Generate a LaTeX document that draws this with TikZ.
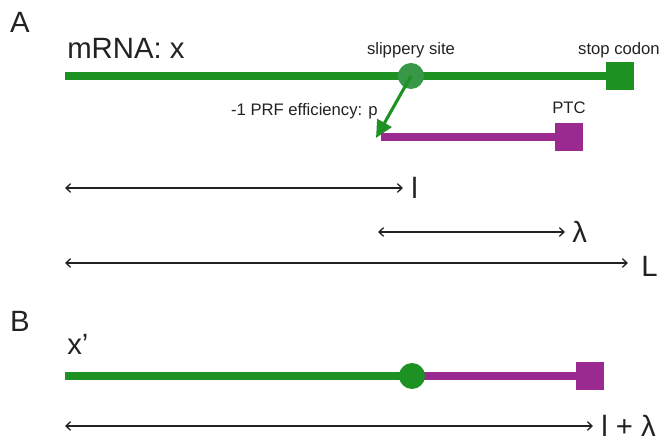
\documentclass[tikz,border=0pt]{standalone}
\usepackage{fontspec}
\setmainfont{Liberation Sans}
\usetikzlibrary{arrows.meta}
\definecolor{mrnagreen}{RGB}{30,145,35}
\definecolor{slipgreen}{RGB}{57,152,72}
\definecolor{ptcpurple}{RGB}{155,42,144}
\definecolor{inkgray}{RGB}{34,34,34}
\tikzset{
    strand/.style={line width=6pt},
    codon/.style={minimum size=21pt, inner sep=0pt},
    site/.style={circle, minimum size=19.5pt, inner sep=0pt},
    span/.style={line width=1pt, inkgray, {Straight Barb[length=3.5pt,width=6.5pt]}-{Straight Barb[length=3.5pt,width=6.5pt]}},
    biglabel/.style={text=inkgray, font=\fontsize{22}{26}\selectfont, inner sep=0pt},
    smalllabel/.style={text=inkgray, font=\fontsize{12.5}{15}\selectfont, inner sep=0pt},
}

\begin{document}
\begin{tikzpicture}[x=0.75pt,y=0.75pt,yscale=-1,xscale=1]
\useasboundingbox (0,0) rectangle (662,441);

%Panel A
\node [biglabel] (panelA) at (20,22) {A};
\node [biglabel, anchor=base west] (mrnalbl) at (67,59) {mRNA: x};

%Straight Lines [mRNA strand]
\coordinate (startA) at (65,76);
\node [codon] (stopA) at (620,76) {};
\draw [strand, mrnagreen] (startA) -- (stopA.center);
\fill [mrnagreen] (stopA.south west) rectangle (stopA.north east);
\node [site, fill=slipgreen] (slipA) at (411,76) {};

% Text Node
\node [smalllabel, anchor=base] (sliplbl) at (411,55) {slippery site};
% Text Node
\node [smalllabel, anchor=base] (stoplbl) at (619,55) {stop codon};

%Straight Lines [frameshift]
\coordinate (shiftA) at (376,138);
\draw [mrnagreen, line width=2.3pt, -{Triangle[length=13pt,width=12pt]}] (slipA.center) -- (shiftA);
% Text Node
\node [smalllabel, anchor=base east] (prflbl) at (378,116) {-1 PRF efficiency: p};

%Straight Lines [PTC strand]
\coordinate (startPTC) at (381,137);
\node [codon] (ptcA) at (569,137) {};
\draw [strand, ptcpurple] (startPTC) -- (ptcA.center);
\fill [ptcpurple] (ptcA.south west) rectangle (ptcA.north east);
% Text Node
\node [smalllabel, anchor=base] (ptclbl) at (569,114) {PTC};

%Spans
\coordinate (lA) at (65,188);
\coordinate (lB) at (403,188);
\draw [span] (lA) -- (lB);
\node [biglabel, anchor=base west] (llbl) at (411,199) {l};
\coordinate (lamA) at (378,232);
\coordinate (lamB) at (565,232);
\draw [span] (lamA) -- (lamB);
\node [biglabel, anchor=base west] (lamlbl) at (572,243) {λ};
\coordinate (LA) at (65,263);
\coordinate (LB) at (628,263);
\draw [span] (LA) -- (LB);
\node [biglabel, anchor=base west] (Llbl) at (641,277) {L};

%Panel B
\node [biglabel] (panelB) at (20,321) {B};
\node [biglabel, anchor=base west] (xlbl) at (67,355) {x’};

%Straight Lines [fused strand]
\coordinate (startB) at (65,376);
\node [site] (slipB) at (412,376) {};
\node [codon] (ptcB) at (590,376) {};
\draw [strand, mrnagreen] (startB) -- (slipB.center);
\draw [strand, ptcpurple] (slipB.center) -- (ptcB.center);
\fill [ptcpurple] (ptcB.south west) rectangle (ptcB.north east);
\fill [mrnagreen] (slipB.center) circle [radius=13];

\coordinate (sumA) at (65,426);
\coordinate (sumB) at (593,426);
\draw [span] (sumA) -- (sumB);
\node [biglabel, anchor=base west] (sumlbl) at (601,437) {l + λ};

\end{tikzpicture}
\end{document}
